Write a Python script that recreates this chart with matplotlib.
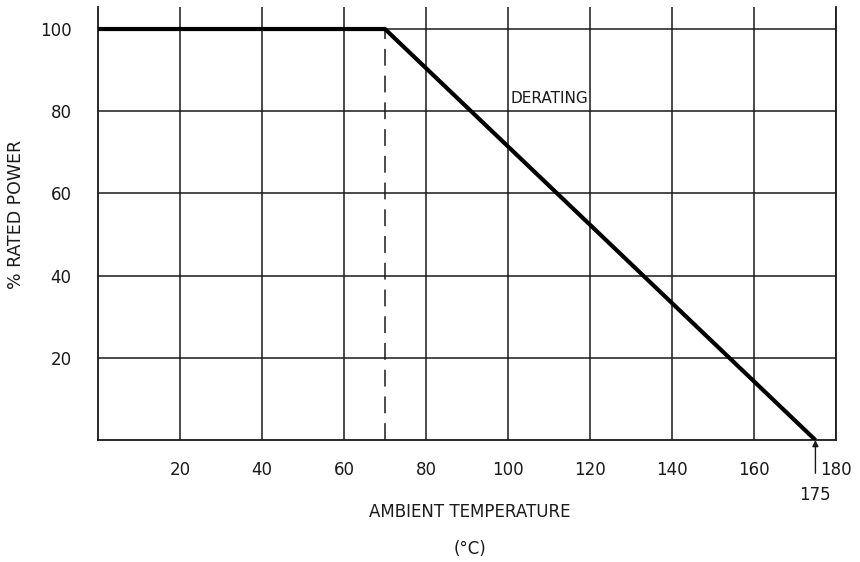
import matplotlib
matplotlib.use("Agg")
import matplotlib.pyplot as plt

# derating curve
temp = [0, 70, 175]
power = [100, 100, 0]

x_ticks = [20, 40, 60, 80, 100, 120, 140, 160, 180]
y_ticks = [20, 40, 60, 80, 100]
knee_temp = 70
max_temp = 175

plt.rcParams.update({"font.family": ["DejaVu Sans"], "font.size": 12})

fig = plt.figure(figsize=(8.6, 5.62), dpi=100)
ax = fig.add_axes([0.114, 0.217, 0.858, 0.7705])

ink = "#1a1a1a"

ax.set_xlim(0, 180)
ax.set_ylim(0, 105.35)
ax.set_xticks(x_ticks)
ax.set_yticks(y_ticks)
ax.grid(True, color=ink, linewidth=1.1)
ax.set_axisbelow(True)

ax.spines["top"].set_visible(False)
for s in ("left", "right", "bottom"):
    ax.spines[s].set_color(ink)
    ax.spines[s].set_linewidth(1.3)

ax.tick_params(length=0, labelsize=12, colors=ink)
ax.tick_params(axis="y", pad=19)
ax.tick_params(axis="x", pad=15)

ax.plot(temp, power, color="black", linewidth=3, solid_capstyle="butt", zorder=3)
ax.plot([knee_temp, knee_temp], [0, 100], color=ink, linewidth=1.1,
        linestyle=(0, (11, 6.5)), zorder=2)

ax.text(100.5, 81.2, "DERATING", fontsize=11, color=ink, va="bottom", ha="left")

ax.annotate(str(max_temp), xy=(max_temp, 0), xytext=(max_temp, -13.3),
            ha="center", va="center", fontsize=12, color=ink,
            arrowprops=dict(arrowstyle="-|>", color=ink, lw=1.0,
                            mutation_scale=9, shrinkA=7, shrinkB=0),
            annotation_clip=False)

ax.set_ylabel("% RATED POWER", fontsize=12.5, color=ink)
ax.yaxis.set_label_coords(-0.099, 0.52)

ax.text(0.504, -0.166, "AMBIENT TEMPERATURE", transform=ax.transAxes,
        ha="center", va="center", fontsize=12, color=ink)
ax.text(0.504, -0.252, "(°C)", transform=ax.transAxes,
        ha="center", va="center", fontsize=12, color=ink)

fig.savefig("out.png", dpi=100, facecolor="white")
